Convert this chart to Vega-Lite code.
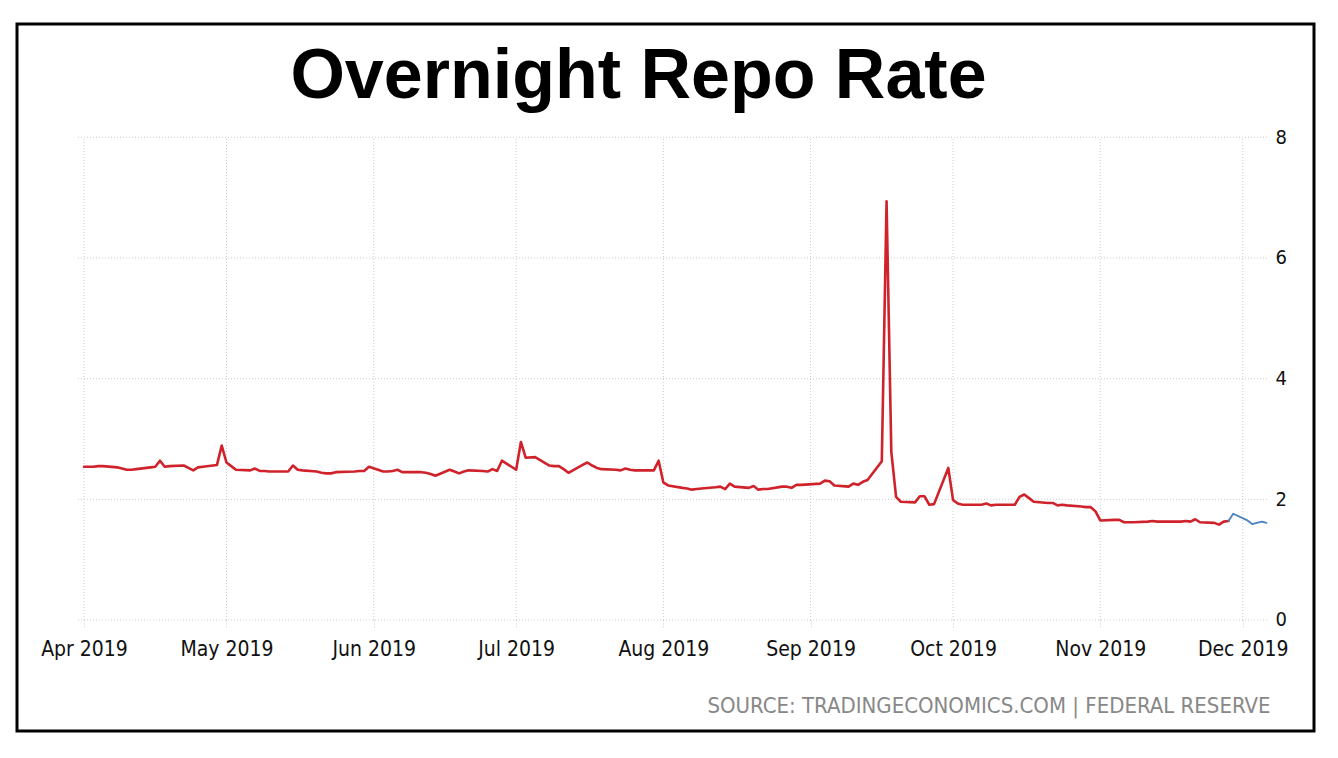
{
  "$schema": "https://vega.github.io/schema/vega-lite/v6.json",
  "autosize": "none",
  "padding": {"left": 17, "top": 24, "right": 24, "bottom": 27},
  "width": 1297,
  "height": 707,
  "background": "white",
  "config": {"view": {"stroke": "black", "strokeWidth": 3}},
  "title": {
    "text": "Overnight Repo Rate",
    "font": "Liberation Sans",
    "fontSize": 70,
    "fontWeight": "bold",
    "color": "black",
    "anchor": "middle",
    "dx": -27,
    "baseline": "alphabetic",
    "offset": -144
  },
  "datasets": {
    "ygrid": [{"v": 0}, {"v": 2}, {"v": 4}, {"v": 6}, {"v": 8}],
    "xgrid": [
      {"d": "2019-04-01"}, {"d": "2019-05-01"}, {"d": "2019-06-01"}, {"d": "2019-07-01"},
      {"d": "2019-08-01"}, {"d": "2019-09-01"}, {"d": "2019-10-01"}, {"d": "2019-11-01"}, {"d": "2019-12-01"}
    ],
    "rates": [
      {"date": "2019-04-01", "rate": 2.54, "series": "main"},
      {"date": "2019-04-02", "rate": 2.54, "series": "main"},
      {"date": "2019-04-03", "rate": 2.54, "series": "main"},
      {"date": "2019-04-04", "rate": 2.55, "series": "main"},
      {"date": "2019-04-05", "rate": 2.55, "series": "main"},
      {"date": "2019-04-08", "rate": 2.53, "series": "main"},
      {"date": "2019-04-09", "rate": 2.51, "series": "main"},
      {"date": "2019-04-10", "rate": 2.49, "series": "main"},
      {"date": "2019-04-11", "rate": 2.49, "series": "main"},
      {"date": "2019-04-12", "rate": 2.50, "series": "main"},
      {"date": "2019-04-15", "rate": 2.53, "series": "main"},
      {"date": "2019-04-16", "rate": 2.54, "series": "main"},
      {"date": "2019-04-17", "rate": 2.64, "series": "main"},
      {"date": "2019-04-18", "rate": 2.54, "series": "main"},
      {"date": "2019-04-19", "rate": 2.55, "series": "main"},
      {"date": "2019-04-22", "rate": 2.56, "series": "main"},
      {"date": "2019-04-23", "rate": 2.52, "series": "main"},
      {"date": "2019-04-24", "rate": 2.48, "series": "main"},
      {"date": "2019-04-25", "rate": 2.53, "series": "main"},
      {"date": "2019-04-26", "rate": 2.54, "series": "main"},
      {"date": "2019-04-29", "rate": 2.57, "series": "main"},
      {"date": "2019-04-30", "rate": 2.89, "series": "main"},
      {"date": "2019-05-01", "rate": 2.61, "series": "main"},
      {"date": "2019-05-02", "rate": 2.55, "series": "main"},
      {"date": "2019-05-03", "rate": 2.49, "series": "main"},
      {"date": "2019-05-06", "rate": 2.48, "series": "main"},
      {"date": "2019-05-07", "rate": 2.51, "series": "main"},
      {"date": "2019-05-08", "rate": 2.47, "series": "main"},
      {"date": "2019-05-09", "rate": 2.47, "series": "main"},
      {"date": "2019-05-10", "rate": 2.46, "series": "main"},
      {"date": "2019-05-13", "rate": 2.46, "series": "main"},
      {"date": "2019-05-14", "rate": 2.46, "series": "main"},
      {"date": "2019-05-15", "rate": 2.56, "series": "main"},
      {"date": "2019-05-16", "rate": 2.49, "series": "main"},
      {"date": "2019-05-17", "rate": 2.48, "series": "main"},
      {"date": "2019-05-20", "rate": 2.46, "series": "main"},
      {"date": "2019-05-21", "rate": 2.44, "series": "main"},
      {"date": "2019-05-22", "rate": 2.43, "series": "main"},
      {"date": "2019-05-23", "rate": 2.43, "series": "main"},
      {"date": "2019-05-24", "rate": 2.45, "series": "main"},
      {"date": "2019-05-28", "rate": 2.46, "series": "main"},
      {"date": "2019-05-29", "rate": 2.47, "series": "main"},
      {"date": "2019-05-30", "rate": 2.47, "series": "main"},
      {"date": "2019-05-31", "rate": 2.54, "series": "main"},
      {"date": "2019-06-03", "rate": 2.46, "series": "main"},
      {"date": "2019-06-04", "rate": 2.46, "series": "main"},
      {"date": "2019-06-05", "rate": 2.47, "series": "main"},
      {"date": "2019-06-06", "rate": 2.49, "series": "main"},
      {"date": "2019-06-07", "rate": 2.45, "series": "main"},
      {"date": "2019-06-10", "rate": 2.45, "series": "main"},
      {"date": "2019-06-11", "rate": 2.45, "series": "main"},
      {"date": "2019-06-12", "rate": 2.44, "series": "main"},
      {"date": "2019-06-13", "rate": 2.42, "series": "main"},
      {"date": "2019-06-14", "rate": 2.39, "series": "main"},
      {"date": "2019-06-17", "rate": 2.49, "series": "main"},
      {"date": "2019-06-18", "rate": 2.46, "series": "main"},
      {"date": "2019-06-19", "rate": 2.43, "series": "main"},
      {"date": "2019-06-20", "rate": 2.46, "series": "main"},
      {"date": "2019-06-21", "rate": 2.48, "series": "main"},
      {"date": "2019-06-24", "rate": 2.47, "series": "main"},
      {"date": "2019-06-25", "rate": 2.46, "series": "main"},
      {"date": "2019-06-26", "rate": 2.50, "series": "main"},
      {"date": "2019-06-27", "rate": 2.47, "series": "main"},
      {"date": "2019-06-28", "rate": 2.64, "series": "main"},
      {"date": "2019-07-01", "rate": 2.49, "series": "main"},
      {"date": "2019-07-02", "rate": 2.95, "series": "main"},
      {"date": "2019-07-03", "rate": 2.69, "series": "main"},
      {"date": "2019-07-05", "rate": 2.70, "series": "main"},
      {"date": "2019-07-08", "rate": 2.56, "series": "main"},
      {"date": "2019-07-09", "rate": 2.55, "series": "main"},
      {"date": "2019-07-10", "rate": 2.55, "series": "main"},
      {"date": "2019-07-11", "rate": 2.50, "series": "main"},
      {"date": "2019-07-12", "rate": 2.44, "series": "main"},
      {"date": "2019-07-15", "rate": 2.57, "series": "main"},
      {"date": "2019-07-16", "rate": 2.61, "series": "main"},
      {"date": "2019-07-17", "rate": 2.56, "series": "main"},
      {"date": "2019-07-18", "rate": 2.52, "series": "main"},
      {"date": "2019-07-19", "rate": 2.50, "series": "main"},
      {"date": "2019-07-22", "rate": 2.49, "series": "main"},
      {"date": "2019-07-23", "rate": 2.48, "series": "main"},
      {"date": "2019-07-24", "rate": 2.51, "series": "main"},
      {"date": "2019-07-25", "rate": 2.49, "series": "main"},
      {"date": "2019-07-26", "rate": 2.48, "series": "main"},
      {"date": "2019-07-29", "rate": 2.48, "series": "main"},
      {"date": "2019-07-30", "rate": 2.48, "series": "main"},
      {"date": "2019-07-31", "rate": 2.64, "series": "main"},
      {"date": "2019-08-01", "rate": 2.28, "series": "main"},
      {"date": "2019-08-02", "rate": 2.23, "series": "main"},
      {"date": "2019-08-05", "rate": 2.19, "series": "main"},
      {"date": "2019-08-06", "rate": 2.18, "series": "main"},
      {"date": "2019-08-07", "rate": 2.16, "series": "main"},
      {"date": "2019-08-08", "rate": 2.17, "series": "main"},
      {"date": "2019-08-09", "rate": 2.18, "series": "main"},
      {"date": "2019-08-12", "rate": 2.20, "series": "main"},
      {"date": "2019-08-13", "rate": 2.21, "series": "main"},
      {"date": "2019-08-14", "rate": 2.17, "series": "main"},
      {"date": "2019-08-15", "rate": 2.26, "series": "main"},
      {"date": "2019-08-16", "rate": 2.21, "series": "main"},
      {"date": "2019-08-19", "rate": 2.19, "series": "main"},
      {"date": "2019-08-20", "rate": 2.22, "series": "main"},
      {"date": "2019-08-21", "rate": 2.16, "series": "main"},
      {"date": "2019-08-22", "rate": 2.17, "series": "main"},
      {"date": "2019-08-23", "rate": 2.17, "series": "main"},
      {"date": "2019-08-26", "rate": 2.21, "series": "main"},
      {"date": "2019-08-27", "rate": 2.21, "series": "main"},
      {"date": "2019-08-28", "rate": 2.19, "series": "main"},
      {"date": "2019-08-29", "rate": 2.24, "series": "main"},
      {"date": "2019-08-30", "rate": 2.24, "series": "main"},
      {"date": "2019-09-03", "rate": 2.26, "series": "main"},
      {"date": "2019-09-04", "rate": 2.31, "series": "main"},
      {"date": "2019-09-05", "rate": 2.30, "series": "main"},
      {"date": "2019-09-06", "rate": 2.23, "series": "main"},
      {"date": "2019-09-09", "rate": 2.21, "series": "main"},
      {"date": "2019-09-10", "rate": 2.26, "series": "main"},
      {"date": "2019-09-11", "rate": 2.24, "series": "main"},
      {"date": "2019-09-12", "rate": 2.29, "series": "main"},
      {"date": "2019-09-13", "rate": 2.32, "series": "main"},
      {"date": "2019-09-16", "rate": 2.63, "series": "main"},
      {"date": "2019-09-17", "rate": 6.94, "series": "main"},
      {"date": "2019-09-18", "rate": 2.79, "series": "main"},
      {"date": "2019-09-19", "rate": 2.04, "series": "main"},
      {"date": "2019-09-20", "rate": 1.96, "series": "main"},
      {"date": "2019-09-23", "rate": 1.95, "series": "main"},
      {"date": "2019-09-24", "rate": 2.05, "series": "main"},
      {"date": "2019-09-25", "rate": 2.05, "series": "main"},
      {"date": "2019-09-26", "rate": 1.91, "series": "main"},
      {"date": "2019-09-27", "rate": 1.92, "series": "main"},
      {"date": "2019-09-30", "rate": 2.52, "series": "main"},
      {"date": "2019-10-01", "rate": 1.99, "series": "main"},
      {"date": "2019-10-02", "rate": 1.93, "series": "main"},
      {"date": "2019-10-03", "rate": 1.91, "series": "main"},
      {"date": "2019-10-04", "rate": 1.91, "series": "main"},
      {"date": "2019-10-07", "rate": 1.91, "series": "main"},
      {"date": "2019-10-08", "rate": 1.93, "series": "main"},
      {"date": "2019-10-09", "rate": 1.90, "series": "main"},
      {"date": "2019-10-10", "rate": 1.91, "series": "main"},
      {"date": "2019-10-11", "rate": 1.91, "series": "main"},
      {"date": "2019-10-14", "rate": 1.91, "series": "main"},
      {"date": "2019-10-15", "rate": 2.04, "series": "main"},
      {"date": "2019-10-16", "rate": 2.08, "series": "main"},
      {"date": "2019-10-17", "rate": 2.02, "series": "main"},
      {"date": "2019-10-18", "rate": 1.96, "series": "main"},
      {"date": "2019-10-21", "rate": 1.94, "series": "main"},
      {"date": "2019-10-22", "rate": 1.94, "series": "main"},
      {"date": "2019-10-23", "rate": 1.90, "series": "main"},
      {"date": "2019-10-24", "rate": 1.91, "series": "main"},
      {"date": "2019-10-25", "rate": 1.90, "series": "main"},
      {"date": "2019-10-28", "rate": 1.88, "series": "main"},
      {"date": "2019-10-29", "rate": 1.87, "series": "main"},
      {"date": "2019-10-30", "rate": 1.87, "series": "main"},
      {"date": "2019-10-31", "rate": 1.80, "series": "main"},
      {"date": "2019-11-01", "rate": 1.65, "series": "main"},
      {"date": "2019-11-04", "rate": 1.66, "series": "main"},
      {"date": "2019-11-05", "rate": 1.66, "series": "main"},
      {"date": "2019-11-06", "rate": 1.62, "series": "main"},
      {"date": "2019-11-07", "rate": 1.62, "series": "main"},
      {"date": "2019-11-08", "rate": 1.62, "series": "main"},
      {"date": "2019-11-11", "rate": 1.63, "series": "main"},
      {"date": "2019-11-12", "rate": 1.64, "series": "main"},
      {"date": "2019-11-13", "rate": 1.63, "series": "main"},
      {"date": "2019-11-14", "rate": 1.63, "series": "main"},
      {"date": "2019-11-15", "rate": 1.63, "series": "main"},
      {"date": "2019-11-18", "rate": 1.63, "series": "main"},
      {"date": "2019-11-19", "rate": 1.64, "series": "main"},
      {"date": "2019-11-20", "rate": 1.63, "series": "main"},
      {"date": "2019-11-21", "rate": 1.67, "series": "main"},
      {"date": "2019-11-22", "rate": 1.62, "series": "main"},
      {"date": "2019-11-25", "rate": 1.61, "series": "main"},
      {"date": "2019-11-26", "rate": 1.58, "series": "main"},
      {"date": "2019-11-27", "rate": 1.63, "series": "main"},
      {"date": "2019-11-28", "rate": 1.64, "series": "main"},
      {"date": "2019-11-28", "rate": 1.64, "series": "latest"},
      {"date": "2019-11-29", "rate": 1.76, "series": "latest"},
      {"date": "2019-12-02", "rate": 1.65, "series": "latest"},
      {"date": "2019-12-03", "rate": 1.59, "series": "latest"},
      {"date": "2019-12-04", "rate": 1.61, "series": "latest"},
      {"date": "2019-12-05", "rate": 1.63, "series": "latest"},
      {"date": "2019-12-06", "rate": 1.61, "series": "latest"}
    ]
  },
  "layer": [
    {
      "data": {"name": "ygrid"},
      "mark": {"type": "rule", "color": "#cccccc", "strokeDash": [1, 2], "strokeWidth": 1},
      "encoding": {
        "y": {"field": "v", "type": "quantitative", "title": null},
        "x": {"datum": {"year": 2019, "month": 3, "date": 30, "hours": 17, "minutes": 40, "utc": true}, "type": "temporal", "title": "SOURCE: TRADINGECONOMICS.COM | FEDERAL RESERVE"},
        "x2": {"datum": {"year": 2019, "month": 12, "date": 6, "hours": 12, "utc": true}}
      }
    },
    {
      "data": {"name": "xgrid"},
      "mark": {"type": "rule", "color": "#cccccc", "strokeDash": [1, 2], "strokeWidth": 1},
      "encoding": {
        "x": {"field": "d", "type": "temporal", "title": "SOURCE: TRADINGECONOMICS.COM | FEDERAL RESERVE"},
        "y": {"datum": 0, "type": "quantitative", "title": null},
        "y2": {"datum": 8}
      }
    },
    {
      "data": {"name": "rates"},
      "mark": {"type": "line", "strokeJoin": "round", "strokeCap": "round"},
      "encoding": {
        "x": {
          "field": "date",
          "type": "temporal",
          "title": "SOURCE: TRADINGECONOMICS.COM | FEDERAL RESERVE",
          "scale": {
            "type": "utc",
            "domain": [
              {"year": 2019, "month": 3, "date": 17, "hours": 21, "minutes": 20, "utc": true},
              {"year": 2019, "month": 12, "date": 16, "hours": 0, "minutes": 15, "utc": true}
            ],
            "nice": false
          },
          "axis": {
            "orient": "bottom",
            "offset": -111,
            "domain": false,
            "grid": false,
            "ticks": true,
            "tickSize": 7,
            "tickColor": "#cccccc",
            "tickDash": [1, 2],
            "tickCount": "month",
            "format": "%b %Y",
            "labelFont": "DejaVu Sans Condensed",
            "labelFontSize": 21,
            "labelColor": "#111111",
            "labelBaseline": "alphabetic",
            "labelPadding": 28,
            "labelFlush": false,
            "labelOverlap": false,
            "titleFont": "DejaVu Sans Condensed",
            "titleFontSize": 22,
            "titleFontWeight": "normal",
            "titleColor": "#888888",
            "titleAlign": "right",
            "titleBaseline": "alphabetic",
            "titleX": 1253,
            "titleY": 92
          }
        },
        "y": {
          "field": "rate",
          "type": "quantitative",
          "title": null,
          "scale": {"domain": [-1.84, 9.878], "nice": false, "zero": false},
          "axis": {
            "orient": "right",
            "offset": -46,
            "domain": false,
            "ticks": false,
            "tickSize": 0,
            "grid": false,
            "values": [0, 2, 4, 6, 8],
            "format": "d",
            "labelFont": "DejaVu Sans Condensed",
            "labelFontSize": 20,
            "labelColor": "#111111",
            "labelPadding": 7,
            "labelAlign": "left",
            "labelBaseline": "middle"
          }
        },
        "color": {
          "field": "series",
          "type": "nominal",
          "scale": {"domain": ["main", "latest"], "range": ["#d0222a", "#4a82be"]},
          "legend": null
        },
        "strokeWidth": {
          "field": "series",
          "type": "nominal",
          "scale": {"domain": ["main", "latest"], "range": [2.6, 1.8]},
          "legend": null
        }
      }
    }
  ]
}
